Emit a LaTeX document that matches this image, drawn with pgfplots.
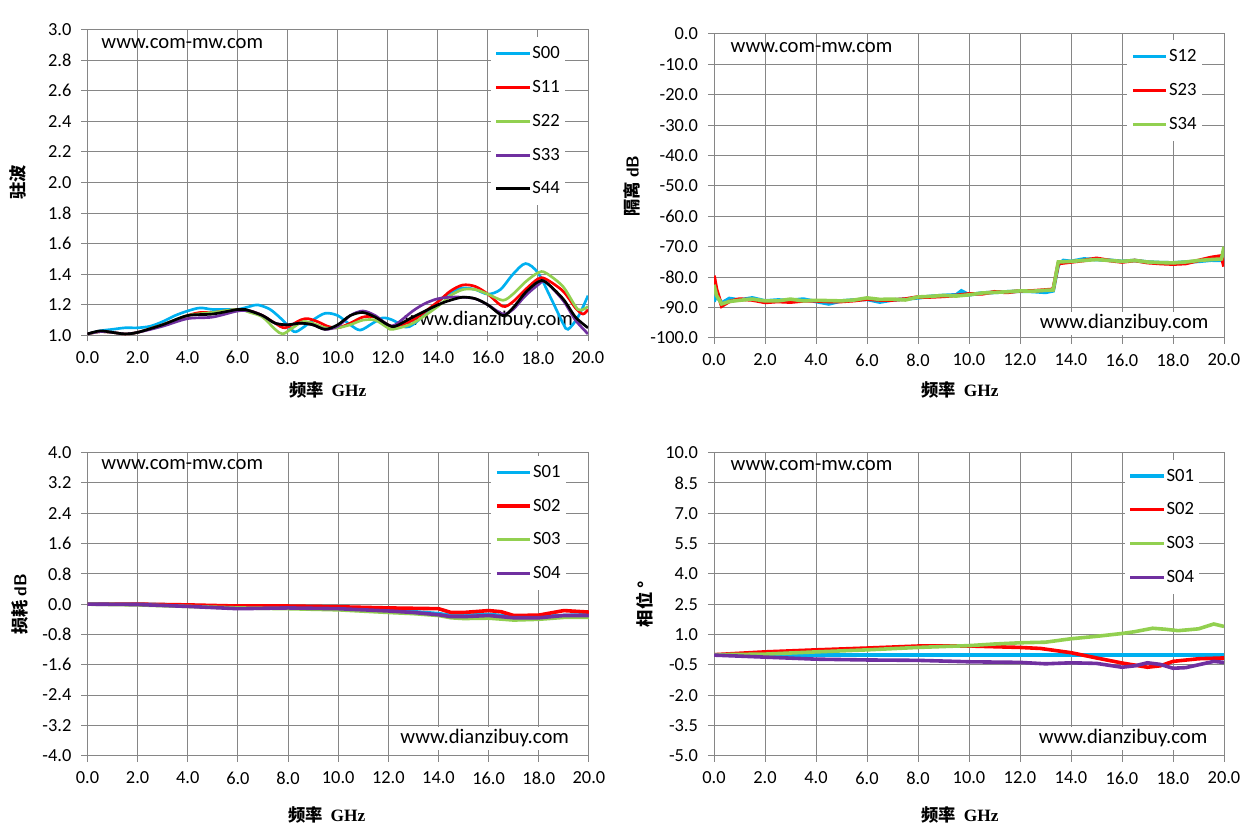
\documentclass[border=0pt]{standalone}
\usepackage{fontspec}
\setmainfont{Carlito}
\newfontfamily\cjk{Noto Sans CJK SC}
\newfontfamily\serifb{Liberation Serif}
\usepackage{pgfplots}
\pgfplotsset{compat=1.18}
\definecolor{cA}{RGB}{0,176,240}
\definecolor{cB}{RGB}{255,0,0}
\definecolor{cC}{RGB}{146,208,80}
\definecolor{cD}{RGB}{112,48,160}
\definecolor{gridc}{RGB}{134,134,134}
\tikzset{wm/.style={font=\fontsize{15.5}{17}\selectfont, inner sep=2pt}}
\pgfplotsset{
 base/.style={
  scale only axis,
  xmin=0,xmax=20,xtick={0,2,4,6,8,10,12,14,16,18,20},
  grid=major, major grid style={gridc, line width=0.75pt},
  axis line style={gridc, line width=0.75pt},
  tick style={gridc, line width=0.75pt},
  major tick length=4.5pt,
  tick align=outside, tick pos=left,
  ticklabel style={font=\fontsize{13.8}{16}\selectfont, black},
  /pgf/number format/fixed, /pgf/number format/fixed zerofill,
  /pgf/number format/precision=1, /pgf/number format/assume math mode=true,
  yticklabel style={xshift=-4pt},
  xticklabel style={yshift=-4pt},
  every axis plot/.append style={line width=2pt},
  legend image code/.code={\draw[##1,line width=2.3pt] (0pt,0pt) -- (25pt,0pt);},
  legend cell align=left,
  legend style={draw=none, fill=white, font=\fontsize{14}{16}\selectfont,
    row sep=12.75pt, inner xsep=3pt, inner ysep=6pt, anchor=north west,
    nodes={inner sep=1pt}},
  xlabel style={at={(axis description cs:0.48,0)}, anchor=center, font=\fontsize{13}{15}\selectfont},
  ylabel style={rotate=-90, anchor=center, font=\fontsize{13}{15}\selectfont},
  xlabel={\cjk\bfseries 频率\ \ {\serifb\bfseries GHz}},
 },
}
\begin{document}
\begin{tikzpicture}
\path[use as bounding box] (0pt,0pt) rectangle (939.75pt,627pt);
% ---------------- top left
\begin{axis}[base, at={(65.6pt,375.4pt)}, anchor=south west, width=375.4pt, height=229.5pt,
  ymin=1, ymax=3, ytick={1,1.2,1.4,1.6,1.8,2,2.2,2.4,2.6,2.8,3},
  ylabel={\cjk\bfseries 驻波},
  ylabel style={at={(axis description cs:-0.139,0.5)}, rotate=90},
  xlabel style={at={(axis description cs:0.48,-0.178)}},
  legend style={at={(axis description cs:0.805,0.975)}}]
\node[anchor=west, wm] at (axis description cs:0.022,0.953) {www.com-mw.com};
\node[anchor=east, wm, fill=white] at (axis description cs:0.976,0.051) {www.dianzibuy.com};
\addplot[cA, smooth] coordinates {(0,1.01)(0.5,1.03)(1,1.04)(1.5,1.05)(2,1.05)(2.5,1.06)(3,1.09)(3.5,1.13)(4,1.16)(4.5,1.18)(5,1.17)(5.5,1.17)(6,1.17)(6.5,1.19)(6.8,1.2)(7.3,1.17)(7.8,1.1)(8.25,1.025)(8.6,1.05)(9,1.1)(9.5,1.145)(10,1.13)(10.5,1.07)(10.9,1.035)(11.4,1.08)(11.8,1.115)(12.2,1.1)(12.7,1.055)(13,1.07)(13.5,1.14)(14,1.22)(14.5,1.28)(15,1.31)(15.5,1.3)(16,1.27)(16.5,1.3)(17,1.4)(17.5,1.47)(18,1.41)(18.5,1.25)(19,1.08)(19.2,1.04)(19.6,1.12)(20,1.26)};
\addlegendentry{S00}
\addplot[cB, smooth] coordinates {(0,1.01)(0.5,1.025)(1,1.02)(1.5,1.01)(2,1.02)(3,1.07)(4,1.13)(4.5,1.15)(5,1.15)(6,1.17)(6.5,1.16)(7,1.13)(7.5,1.08)(7.9,1.05)(8.5,1.1)(8.8,1.11)(9.2,1.09)(9.6,1.06)(10,1.05)(10.5,1.08)(11,1.12)(11.5,1.12)(12,1.07)(12.3,1.06)(13,1.1)(14,1.22)(14.5,1.29)(15,1.33)(15.5,1.32)(16,1.27)(16.6,1.19)(17,1.22)(17.5,1.3)(18,1.37)(18.3,1.37)(19,1.29)(19.5,1.18)(19.8,1.14)(20,1.17)};
\addlegendentry{S11}
\addplot[cC, smooth] coordinates {(0,1.01)(0.5,1.025)(1,1.02)(1.5,1.01)(2,1.02)(3,1.07)(4,1.13)(5,1.15)(6,1.17)(6.5,1.15)(7,1.12)(7.5,1.04)(7.8,1.01)(8.2,1.05)(8.6,1.09)(9,1.08)(9.5,1.05)(10,1.05)(10.5,1.07)(11,1.1)(11.5,1.1)(12,1.05)(12.2,1.04)(13,1.08)(14,1.19)(14.5,1.26)(15,1.3)(15.5,1.3)(16,1.27)(16.6,1.23)(17,1.27)(17.5,1.35)(18,1.41)(18.3,1.41)(19,1.32)(19.6,1.17)(20,1.19)};
\addlegendentry{S22}
\addplot[cD, smooth] coordinates {(0,1.01)(0.5,1.025)(1,1.02)(1.5,1.01)(2,1.02)(3,1.06)(4,1.11)(5,1.12)(6,1.16)(6.5,1.16)(7,1.13)(7.5,1.08)(8,1.07)(8.5,1.08)(9,1.07)(9.5,1.04)(10,1.06)(10.5,1.13)(11,1.16)(11.5,1.13)(12,1.07)(12.3,1.07)(13,1.16)(13.5,1.21)(14,1.24)(14.5,1.25)(15,1.25)(15.5,1.24)(16,1.2)(16.6,1.14)(17,1.17)(17.5,1.26)(18,1.33)(18.3,1.35)(19,1.23)(19.5,1.1)(20,1.01)};
\addlegendentry{S33}
\addplot[black, smooth] coordinates {(0,1.01)(0.5,1.03)(1,1.02)(1.5,1.01)(2,1.02)(3,1.07)(4,1.13)(5,1.14)(6,1.17)(6.3,1.17)(7,1.13)(7.5,1.08)(8,1.07)(8.5,1.08)(9,1.07)(9.5,1.04)(10,1.07)(10.5,1.13)(11,1.15)(11.5,1.12)(12,1.07)(12.3,1.06)(13,1.12)(14,1.2)(14.5,1.23)(15,1.25)(15.5,1.24)(16,1.2)(16.6,1.13)(17,1.18)(17.5,1.28)(18,1.35)(18.3,1.35)(19,1.24)(19.5,1.12)(20,1.05)};
\addlegendentry{S44}
\end{axis}
% ---------------- top right
\begin{axis}[base, at={(535.5pt,373.5pt)}, anchor=south west, width=382.5pt, height=228pt,
  ymin=-100, ymax=0, ytick={-100,-90,-80,-70,-60,-50,-40,-30,-20,-10,0},
  ylabel={\cjk\bfseries 隔离 {\sffamily\bfseries dB}},
  ylabel style={at={(axis description cs:-0.161,0.5)}, rotate=90},
  xlabel style={at={(axis description cs:0.482,-0.171)}},
  legend style={at={(axis description cs:0.81,0.98)}},
  every axis plot/.append style={line width=2.7pt}]
\node[anchor=west, wm] at (axis description cs:0.027,0.954) {www.com-mw.com};
\node[anchor=east, wm, fill=white] at (axis description cs:0.975,0.049) {www.dianzibuy.com};
\addplot[cA] coordinates {(0,-88)(0.1,-86)(0.3,-88.5)(0.6,-87)(1,-87.5)(1.5,-86.8)(2,-87.8)(2.5,-87.5)(3,-87.6)(3.5,-87.2)(4,-88)(4.5,-88.8)(5,-87.8)(5.5,-87.5)(6,-87.3)(6.5,-88.2)(7,-87.5)(7.5,-87.2)(8,-86.8)(8.5,-86.3)(9,-86)(9.5,-85.8)(9.7,-84.5)(10,-85.8)(10.5,-85.2)(11,-85)(11.5,-84.8)(12,-84.6)(12.5,-84.7)(13,-85)(13.3,-84.5)(13.5,-76)(13.7,-74.5)(14,-74.8)(14.5,-74)(15,-74.2)(15.5,-74.4)(16,-74.8)(16.5,-74.5)(17,-75)(17.5,-75.2)(18,-75.3)(18.5,-75)(19,-74.8)(19.5,-74.4)(20,-74.5)};
\addlegendentry{S12}
\addplot[cB] coordinates {(0,-79.5)(0.1,-84)(0.3,-89.5)(0.6,-88)(1,-87.2)(1.5,-87.5)(2,-88.3)(2.5,-88)(3,-88.2)(3.5,-87.8)(4,-87.8)(4.5,-88)(5,-88)(5.5,-87.7)(6,-87.2)(6.5,-87.5)(7,-87.5)(7.5,-87.2)(8,-86.5)(8.5,-86.5)(9,-86.3)(9.5,-86)(10,-85.5)(10.5,-85.5)(11,-84.8)(11.5,-85)(12,-84.5)(12.5,-84.5)(13,-84.2)(13.3,-84)(13.5,-75.5)(14,-75)(14.5,-74.5)(15,-73.8)(15.5,-74.5)(16,-75)(16.5,-74.5)(17,-75.2)(17.5,-75.5)(18,-75.7)(18.5,-75.5)(19,-74.5)(19.5,-73.5)(19.9,-73)(20,-76.5)};
\addlegendentry{S23}
\addplot[cC] coordinates {(0,-82.5)(0.1,-86)(0.3,-88.8)(0.6,-88)(1,-87.6)(1.5,-87.2)(2,-87.8)(2.5,-87.8)(3,-87.2)(3.5,-87.8)(4,-87.6)(4.5,-87.7)(5,-87.8)(5.5,-87.5)(6,-86.8)(6.5,-87.3)(7,-87.2)(7.5,-87.5)(8,-86.5)(8.5,-86.3)(9,-86)(9.5,-86.2)(10,-85.8)(10.5,-85.2)(11,-85)(11.5,-84.8)(12,-84.5)(12.5,-84.6)(13,-84.3)(13.3,-84.2)(13.5,-75)(14,-74.8)(14.5,-74.5)(15,-74.2)(15.5,-74.5)(16,-74.8)(16.5,-74.5)(17,-75)(17.5,-75.2)(18,-75.3)(18.5,-75)(19,-74.5)(19.5,-74.2)(19.9,-74)(20,-70)};
\addlegendentry{S34}
\end{axis}
% ---------------- bottom left
\begin{axis}[base, at={(65.6pt,60.2pt)}, anchor=south west, width=376.1pt, height=227.4pt,
  ymin=-4, ymax=4, ytick={-4,-3.2,-2.4,-1.6,-0.8,0,0.8,1.6,2.4,3.2,4},
  ylabel={\cjk\bfseries 损耗 {\sffamily\bfseries dB}},
  ylabel style={at={(axis description cs:-0.135,0.5)}, rotate=90},
  xlabel style={at={(axis description cs:0.477,-0.196)}},
  legend style={at={(axis description cs:0.805,0.99)}},
  every axis plot/.append style={line width=2.7pt}]
\node[anchor=west, wm] at (axis description cs:0.022,0.959) {www.com-mw.com};
\node[anchor=east, wm, fill=white] at (axis description cs:0.966,0.058) {www.dianzibuy.com};
\addplot[cA] coordinates {(0,0)(2,0)(4,-0.03)(6,-0.08)(8,-0.1)(10,-0.12)(12,-0.16)(13,-0.2)(14,-0.25)(14.5,-0.3)(15,-0.3)(16,-0.27)(17,-0.33)(18,-0.33)(19,-0.3)(20,-0.28)};
\addlegendentry{S01}
\addplot[cB] coordinates {(0,0)(2,0)(4,-0.02)(6,-0.05)(8,-0.05)(10,-0.07)(12,-0.1)(13,-0.11)(14,-0.12)(14.5,-0.22)(15,-0.22)(16,-0.17)(16.5,-0.2)(17,-0.3)(18,-0.29)(19,-0.17)(20,-0.21)};
\addlegendentry{S02}
\addplot[cC] coordinates {(0,0)(2,-0.02)(4,-0.06)(6,-0.1)(8,-0.12)(10,-0.15)(12,-0.22)(13,-0.25)(14,-0.3)(14.5,-0.36)(15,-0.38)(16,-0.37)(17,-0.42)(18,-0.4)(19,-0.35)(20,-0.35)};
\addlegendentry{S03}
\addplot[cD] coordinates {(0,0)(2,-0.01)(4,-0.06)(6,-0.12)(8,-0.1)(10,-0.12)(12,-0.18)(13,-0.22)(14,-0.28)(14.5,-0.33)(15,-0.33)(16,-0.3)(17,-0.36)(18,-0.36)(19,-0.3)(20,-0.3)};
\addlegendentry{S04}
\end{axis}
% ---------------- bottom right
\begin{axis}[base, at={(535.5pt,60.2pt)}, anchor=south west, width=382.5pt, height=227.3pt,
  ymin=-5, ymax=10, ytick={-5,-3.5,-2,-0.5,1,2.5,4,5.5,7,8.5,10},
  ylabel={\cjk\bfseries 相位 °},
  ylabel style={at={(axis description cs:-0.135,0.5)}, rotate=90},
  xlabel style={at={(axis description cs:0.482,-0.196)}},
  legend style={at={(axis description cs:0.805,0.978)}},
  every axis plot/.append style={line width=2.7pt}]
\node[anchor=west, wm] at (axis description cs:0.027,0.959) {www.com-mw.com};
\node[anchor=east, wm, fill=white] at (axis description cs:0.973,0.058) {www.dianzibuy.com};
\addplot[cA] coordinates {(0,0)(5,0)(10,0)(15,0)(20,0)};
\addlegendentry{S01}
\addplot[cB] coordinates {(0,0)(2,0.14)(4,0.24)(6,0.33)(8,0.43)(10,0.43)(12,0.36)(12.8,0.31)(14,0.1)(15,-0.16)(16,-0.41)(17,-0.62)(17.5,-0.55)(18,-0.33)(19,-0.2)(20,-0.16)};
\addlegendentry{S02}
\addplot[cC] coordinates {(0,0)(2,0.03)(4,0.14)(6,0.24)(8,0.36)(10,0.45)(11,0.53)(12,0.59)(13,0.62)(14,0.79)(15,0.91)(16,1.05)(16.5,1.14)(17.2,1.31)(17.7,1.26)(18.2,1.19)(19,1.28)(19.6,1.52)(20,1.4)};
\addlegendentry{S03}
\addplot[cD] coordinates {(0,-0.02)(2,-0.12)(4,-0.22)(6,-0.26)(8,-0.28)(10,-0.35)(12,-0.38)(13,-0.45)(14,-0.4)(15,-0.43)(16,-0.62)(16.5,-0.55)(17,-0.4)(17.5,-0.48)(18,-0.67)(18.5,-0.64)(19,-0.5)(19.6,-0.33)(20,-0.38)};
\addlegendentry{S04}
\end{axis}
\end{tikzpicture}
\end{document}
